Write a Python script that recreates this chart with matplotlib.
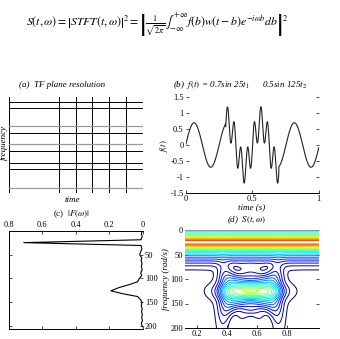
import numpy as np
import matplotlib
matplotlib.use('Agg')
import matplotlib.pyplot as plt
from matplotlib.colors import Normalize

# signal from panel (b) title: f(t) = 0.7 sin 25t (all t) + 0.5 sin 125t (burst only)
amps = [0.7, 0.5]
freqs = [25, 125]          # rad/s
burst = [0.3, 0.7]         # s, where the 125 rad/s part is on

# panel (a) TF grid lines (time split into 8 units, freq lines in 0..96)
time_lines = [0, 3, 4, 5, 6, 7, 8]
freq_lines_black = [0, 24, 30, 42.3, 60.6, 85, 90.6]
freq_lines_gray = [5, 49, 66.6]

# panel (c) |F(w)|
omega_c = [0, 6, 12, 19, 25, 31, 38, 44, 50, 57, 63, 69, 75, 82, 88, 94, 100,
           107, 113, 119, 126, 132, 138, 145, 151, 157, 163, 170, 176, 182, 188, 195, 201]
amp_c = [0.002, 0.008, 0.003, 0.01, 0.71, 0.01, 0.005, 0.012, 0.018, 0.006, 0.009,
         0.004, 0.008, 0.003, 0.012, 0.006, 0.02, 0.03, 0.08, 0.14, 0.19, 0.12,
         0.03, 0.012, 0.004, 0.009, 0.003, 0.007, 0.002, 0.006, 0.002, 0.008, 0.002]

plt.rcParams['font.family'] = ['Liberation Serif', 'DejaVu Serif']
plt.rcParams['mathtext.fontset'] = 'stix'
plt.rcParams['font.size'] = 6

W_PX, H_PX = 340, 339
fig = plt.figure(figsize=(3.4, 3.39), dpi=100)

def box(x0, y0, x1, y1):
    # pixel box (top-left origin) -> figure fraction rect
    return [x0 / W_PX, 1 - y1 / H_PX, (x1 - x0) / W_PX, (y1 - y0) / H_PX]

def ftxt(x, y, s, **kw):
    fig.text(x / W_PX, 1 - y / H_PX, s, ha='center', va='center', **kw)

# formula
ftxt(157, 25, r'$S(t,\omega)=\left|STFT(t,\omega)\right|^2=\left|\frac{1}{\sqrt{2\pi}}'
     r'\int_{-\infty}^{+\infty}f(b)w(t-b)e^{-i\omega b}db\right|^2$', fontsize=8.5)

# ---- (a) TF plane resolution
axa = fig.add_axes(box(8.7, 97, 142.7, 193.3))
for x in time_lines:
    axa.plot([x, x], [0, 96], color='black', lw=0.7)
for y in freq_lines_black:
    axa.plot([0, 8], [y, y], color='black', lw=0.7)
for y in freq_lines_gray:
    axa.plot([0, 8], [y, y], color='#999999', lw=0.9)
axa.set_xlim(0, 8)
axa.set_ylim(0, 96)
axa.axis('off')
ftxt(62, 85, '(a)  TF plane resolution', style='italic', fontsize=6.5)
ftxt(72, 200.5, 'time', style='italic', fontsize=6.5)
ftxt(3.5, 142, 'frequency', style='italic', rotation=90, fontsize=6.5)

# ---- (b) signal
t = np.linspace(0, 1, 1000)
on = (t >= burst[0]) & (t <= burst[1])
f = amps[0] * np.sin(freqs[0] * t) + amps[1] * np.sin(freqs[1] * t) * on

axb = fig.add_axes(box(185.7, 97.3, 318.7, 192.7))
axb.plot(t, f, color='#222222', lw=0.8)
axb.set_xlim(0, 1)
axb.set_ylim(-1.5, 1.5)
axb.set_xticks([0, 0.5, 1])
axb.set_xticklabels(['0', '0.5', '1'])
axb.set_yticks([-1.5, -1, -0.5, 0, 0.5, 1, 1.5])
axb.set_yticklabels(['-1.5', '-1', '-0.5', '0', '0.5', '1', '1.5'])
for s in ['top', 'left', 'right']:
    axb.spines[s].set_visible(False)
axb.spines['bottom'].set_linewidth(0.7)
axb.tick_params(direction='in', length=2, width=0.5, pad=1.5, right=True)
ftxt(240, 85, r'(b)  $f(t)$ = 0.7sin 25$t_1$      0.5sin 125$t_2$', style='italic', fontsize=6.5)
ftxt(252, 207.5, 'time (s)', style='italic', fontsize=6.5)
ftxt(164, 146, r'$f(t)$', rotation=90, fontsize=6.5)

# ---- (c) spectrum
axc = fig.add_axes(box(8.7, 230.7, 142.7, 329))
axc.plot(amp_c, omega_c, color='black', lw=0.8)
axc.set_xlim(0.8, 0)
axc.set_ylim(206, 0)
axc.xaxis.tick_top()
axc.set_xticks([0.8, 0.6, 0.4, 0.2, 0])
axc.set_xticklabels(['0.8', '0.6', '0.4', '0.2', '0'])
axc.set_yticks([50, 100, 150, 200])
axc.yaxis.tick_right()
axc.tick_params(direction='in', length=2, width=0.5, pad=1.5, left=True, bottom=True)
axc.spines['right'].set_visible(False)
for s in ['top', 'left', 'bottom']:
    axc.spines[s].set_linewidth(0.7)
ftxt(72, 214.5, r'(c)  $|F(\omega)|$', fontsize=6.5)
ftxt(166, 279, 'frequency (rad/s)', style='italic', rotation=90, fontsize=6.5)

# ---- (d) S(t,w) contour: narrow gaussian window with a wide low skirt
sig_core, sig_skirt, skirt = 0.04, 0.13, 0.2
tt = np.linspace(-0.5, 1.5, 2000)          # long support so the window never hits an end
tone_on = (tt >= burst[0]) & (tt <= burst[1])
tau = np.linspace(0.04, 0.98, 200)
om = np.linspace(0, 200, 201)
dt = tt[1] - tt[0]
lag = tau[:, None] - tt[None, :]
win = np.exp(-lag ** 2 / (2 * sig_core ** 2)) + skirt * np.exp(-lag ** 2 / (2 * sig_skirt ** 2))
kern = np.exp(-1j * np.outer(tt, om))
parts = [amps[0] * np.exp(1j * freqs[0] * tt),
         amps[1] * np.exp(1j * freqs[1] * tt) * tone_on]
S = np.sqrt(sum(np.abs((win * p) @ kern) ** 2 for p in parts)) * dt / np.sqrt(2 * np.pi)

axd = fig.add_axes(box(185, 230, 319, 328))
# the picture's time labels sit offset from the signal time
tau_lab = 0.122 + (tau - 0.04) * 0.9504
levels = S.max() * np.arange(1, 21) / 21
axd.contour(tau_lab, om, S.T, levels=levels, cmap='jet', linewidths=0.7,
            norm=Normalize(levels[0], 1.13 * S.max()))
axd.set_xlim(0.122, 1.015)
axd.set_ylim(200, 0)
axd.set_xticks([0.2, 0.4, 0.6, 0.8])
axd.set_yticks([0, 50, 100, 150, 200])
for s in ['left', 'right']:
    axd.spines[s].set_visible(False)
axd.spines['top'].set_color('#999999')
axd.spines['top'].set_linewidth(0.6)
axd.spines['bottom'].set_linewidth(0.7)
axd.tick_params(direction='in', length=2, width=0.5, pad=1.5, right=True)
ftxt(247, 220, r'(d)  $S(t,\omega)$', style='italic', fontsize=6.5)

fig.savefig('out.png', dpi=100)
